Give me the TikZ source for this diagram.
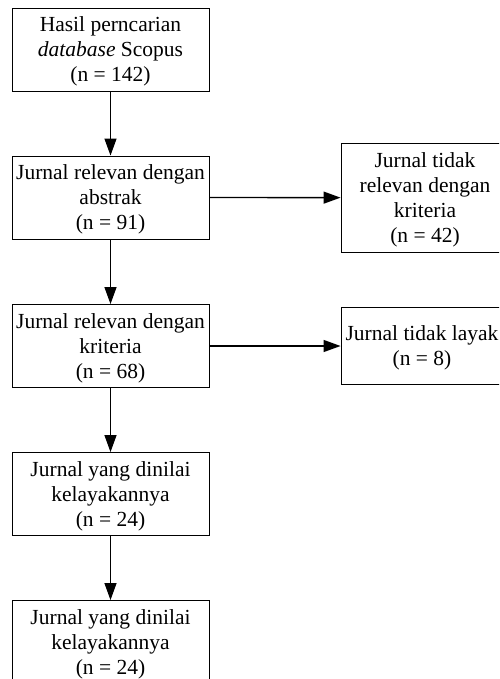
\documentclass[tikz,border=0pt]{standalone}
\usepackage{fontspec}
\setmainfont{Liberation Serif}
\usetikzlibrary{arrows.meta}
\begin{document}
\begin{tikzpicture}[x=1pt,y=-1pt,
  box/.style={draw=black,line width=0.9pt,align=center,inner sep=0pt,
    font=\fontsize{21.5}{25}\selectfont,minimum width=197pt,minimum height=83pt,
    text depth=0pt},
  conn/.style={line width=1.3pt,-{Triangle[length=17pt,width=12pt]}}]
\useasboundingbox (0,0) rectangle (499,679);
\clip (0,0) rectangle (499,679);
\node[box] (b1) at (110.5,49.5) {Hasil perncarian\\\textit{database} Scopus\\(n = 142)};
\node[box] (b2) at (110.5,197.5) {Jurnal relevan dengan\\abstrak\\(n = 91)};
\node[box] (b3) at (110.5,346) {Jurnal relevan dengan\\kriteria\\(n = 68)};
\node[box] (b4) at (110.5,494) {Jurnal yang dinilai\\kelayakannya\\(n = 24)};
\node[box] (b5) at (110.5,642) {Jurnal yang dinilai\\kelayakannya\\(n = 24)};
\node[box,minimum width=168pt,minimum height=109pt] (r1) at (425,197.7) {Jurnal tidak\\relevan dengan\\kriteria\\(n = 42)};
\node[box,minimum width=162pt,minimum height=77pt] (r2) at (422,346) {Jurnal tidak layak\\(n = 8)};
\draw[conn] (b1) -- (b2);
\draw[conn] (b2) -- (b3);
\draw[conn] (b3) -- (b4);
\draw[conn] (b4) -- (b5);
\draw[conn] (b2) -- (r1);
\draw[conn] (b3) -- (r2);
\end{tikzpicture}
\end{document}
